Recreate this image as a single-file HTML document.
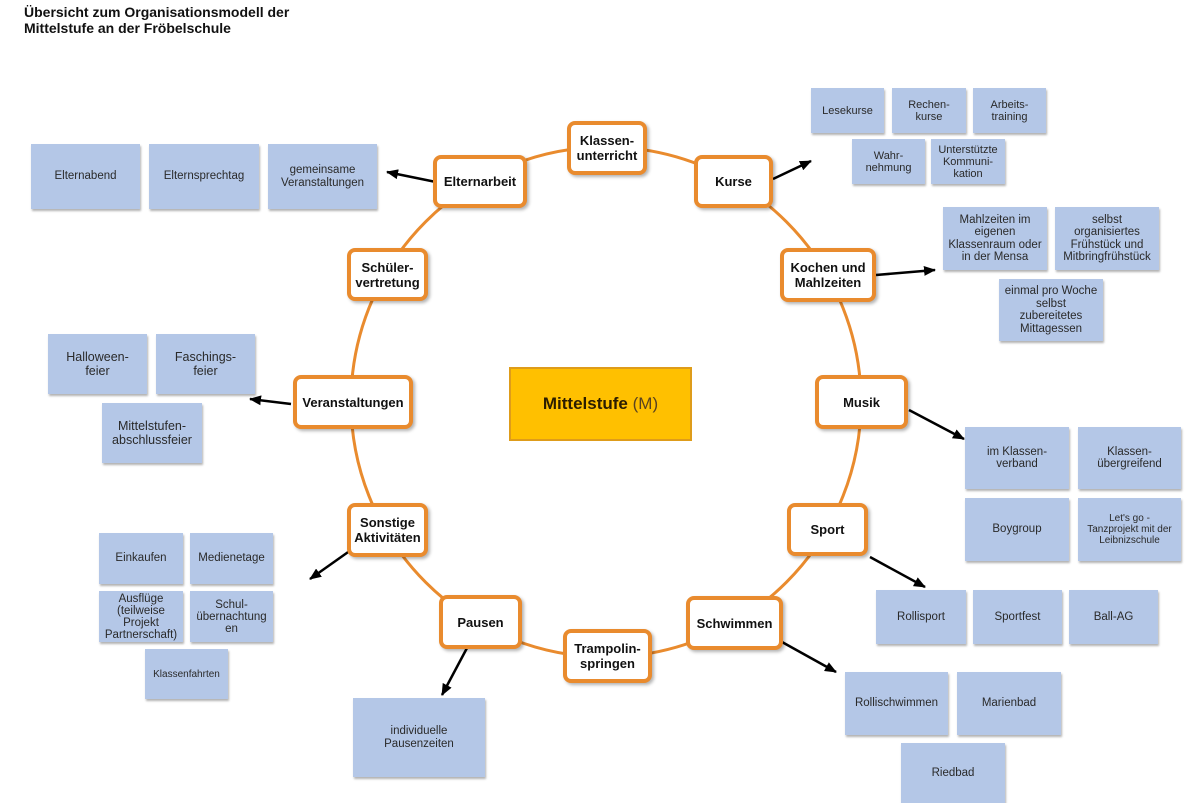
<!DOCTYPE html>
<html><head><meta charset="utf-8"><style>
*{margin:0;padding:0;box-sizing:border-box}
body{width:1200px;height:800px;background:#fff;overflow:hidden;position:relative;font-family:"Liberation Sans",Arial,sans-serif}
.t{position:absolute;left:24px;top:4px;font-weight:bold;font-size:14px;line-height:16px;color:#111}
.n{position:absolute;border:4px solid #E98B2E;border-radius:8px;background:#fff;display:flex;align-items:center;justify-content:center;text-align:center;font-weight:bold;font-size:13px;line-height:15px;color:#111;box-shadow:2px 2px 3px rgba(0,0,0,0.3)}
.b{position:absolute;background:#B4C7E7;display:flex;align-items:center;justify-content:center;text-align:center;font-size:11.5px;line-height:12.5px;color:#2a2a2a;box-shadow:1px 2px 2px rgba(0,0,0,0.3)}
.s{font-size:11px;line-height:12px}
.xs{font-size:10px;line-height:11px}
svg{position:absolute;left:0;top:0}
.c{position:absolute;left:509px;top:367px;width:183px;height:74px;background:#FFC000;border:2px solid #DE9C1A;display:flex;align-items:center;justify-content:center;font-size:17px;color:#2b1d00}
</style></head><body>
<div class="t">Übersicht zum Organisationsmodell der<br>Mittelstufe an der Fröbelschule</div>
<svg width="1200" height="800" viewBox="0 0 1200 800">
<defs><marker id="a" markerUnits="userSpaceOnUse" markerWidth="12" markerHeight="10" refX="11" refY="5" orient="auto"><path d="M0,0 L12,5 L0,10 z" fill="#000"/></marker></defs>
<circle cx="606" cy="402" r="255" fill="none" stroke="#E98B2E" stroke-width="3"/>
<g stroke="#000" stroke-width="2.5" marker-end="url(#a)">
<line x1="436" y1="182" x2="387" y2="172"/>
<line x1="773" y1="179" x2="811" y2="161"/>
<line x1="876" y1="275" x2="935" y2="270"/>
<line x1="291" y1="404" x2="250" y2="399"/>
<line x1="909" y1="410" x2="964" y2="439"/>
<line x1="870" y1="557" x2="925" y2="587"/>
<line x1="351" y1="550" x2="310" y2="579"/>
<line x1="467" y1="648" x2="442" y2="695"/>
<line x1="782" y1="642" x2="836" y2="672"/>
</g>
</svg>
<div class="c"><b>Mittelstufe</b>&nbsp;<span style="color:#5a4320">(M)</span></div>

<div class="n" style="left:567px;top:121px;width:80px;height:54px">Klassen-<br>unterricht</div>
<div class="n" style="left:433px;top:155px;width:94px;height:53px">Elternarbeit</div>
<div class="n" style="left:694px;top:155px;width:79px;height:53px">Kurse</div>
<div class="n" style="left:347px;top:248px;width:81px;height:53px">Schüler-<br>vertretung</div>
<div class="n" style="left:780px;top:248px;width:96px;height:54px">Kochen und<br>Mahlzeiten</div>
<div class="n" style="left:293px;top:375px;width:120px;height:54px">Veranstaltungen</div>
<div class="n" style="left:815px;top:375px;width:93px;height:54px">Musik</div>
<div class="n" style="left:347px;top:503px;width:81px;height:54px">Sonstige<br>Aktivitäten</div>
<div class="n" style="left:787px;top:503px;width:81px;height:53px">Sport</div>
<div class="n" style="left:439px;top:595px;width:83px;height:54px">Pausen</div>
<div class="n" style="left:686px;top:596px;width:97px;height:54px">Schwimmen</div>
<div class="n" style="left:563px;top:629px;width:89px;height:54px">Trampolin-<br>springen</div>

<div class="b" style="left:31px;top:144px;width:109px;height:65px">Elternabend</div>
<div class="b" style="left:149px;top:144px;width:110px;height:65px">Elternsprechtag</div>
<div class="b" style="left:268px;top:144px;width:109px;height:65px">gemeinsame<br>Veranstaltungen</div>

<div class="b s" style="left:811px;top:88px;width:73px;height:45px">Lesekurse</div>
<div class="b s" style="left:892px;top:88px;width:74px;height:45px">Rechen-<br>kurse</div>
<div class="b s" style="left:973px;top:88px;width:73px;height:45px">Arbeits-<br>training</div>
<div class="b s" style="left:852px;top:139px;width:73px;height:45px">Wahr-<br>nehmung</div>
<div class="b s" style="left:931px;top:139px;width:74px;height:45px">Unterstützte<br>Kommuni-<br>kation</div>

<div class="b" style="left:943px;top:207px;width:104px;height:63px">Mahlzeiten im<br>eigenen<br>Klassenraum oder<br>in der Mensa</div>
<div class="b" style="left:1055px;top:207px;width:104px;height:63px">selbst<br>organisiertes<br>Frühstück und<br>Mitbringfrühstück</div>
<div class="b" style="left:999px;top:279px;width:104px;height:62px">einmal pro Woche<br>selbst<br>zubereitetes<br>Mittagessen</div>

<div class="b" style="left:48px;top:334px;width:99px;height:60px;font-size:12.5px;line-height:14px">Halloween-<br>feier</div>
<div class="b" style="left:156px;top:334px;width:99px;height:60px;font-size:12.5px;line-height:14px">Faschings-<br>feier</div>
<div class="b" style="left:102px;top:403px;width:100px;height:60px;font-size:12.5px;line-height:14px">Mittelstufen-<br>abschlussfeier</div>

<div class="b" style="left:965px;top:427px;width:104px;height:62px">im Klassen-<br>verband</div>
<div class="b" style="left:1078px;top:427px;width:103px;height:62px">Klassen-<br>übergreifend</div>
<div class="b" style="left:965px;top:498px;width:104px;height:63px">Boygroup</div>
<div class="b xs" style="left:1078px;top:498px;width:103px;height:63px">Let's go -<br>Tanzprojekt mit der<br>Leibnizschule</div>

<div class="b" style="left:876px;top:590px;width:90px;height:54px">Rollisport</div>
<div class="b" style="left:973px;top:590px;width:89px;height:54px">Sportfest</div>
<div class="b" style="left:1069px;top:590px;width:89px;height:54px">Ball-AG</div>

<div class="b" style="left:845px;top:672px;width:103px;height:63px">Rollischwimmen</div>
<div class="b" style="left:957px;top:672px;width:104px;height:63px">Marienbad</div>
<div class="b" style="left:901px;top:743px;width:104px;height:60px">Riedbad</div>

<div class="b" style="left:99px;top:533px;width:84px;height:51px">Einkaufen</div>
<div class="b" style="left:190px;top:533px;width:83px;height:51px">Medienetage</div>
<div class="b" style="left:99px;top:591px;width:84px;height:51px;line-height:12px">Ausflüge<br>(teilweise<br>Projekt<br>Partnerschaft)</div>
<div class="b" style="left:190px;top:591px;width:83px;height:51px;line-height:12px">Schul-<br>übernachtung<br>en</div>
<div class="b xs" style="left:145px;top:649px;width:83px;height:50px">Klassenfahrten</div>

<div class="b" style="left:353px;top:698px;width:132px;height:79px">individuelle<br>Pausenzeiten</div>
</body></html>
